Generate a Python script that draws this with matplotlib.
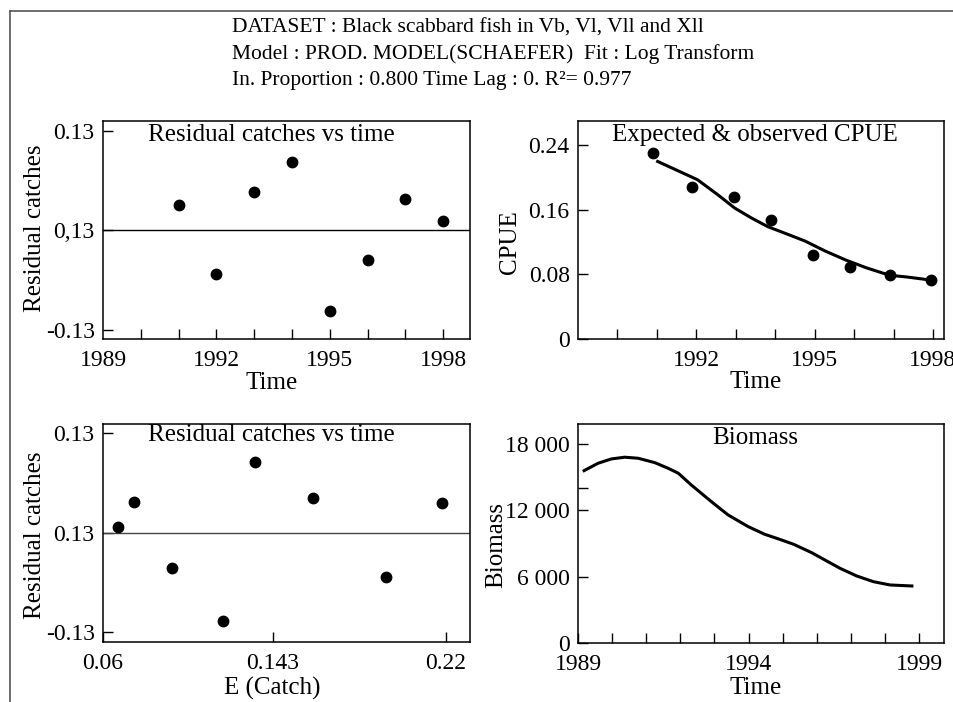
import matplotlib
matplotlib.use("Agg")
import matplotlib.pyplot as plt
from matplotlib.lines import Line2D

# residuals vs time
res_years = [1991, 1992, 1993, 1994, 1995, 1996, 1997, 1998]
res_time = [0.033, -0.057, 0.050, 0.090, -0.105, -0.039, 0.041, 0.012]

# observed / expected CPUE
cpue_years = [1990.9, 1991.9, 1992.95, 1993.9, 1994.95, 1995.9, 1996.92, 1997.95]
cpue_obs = [0.230, 0.1875, 0.1756, 0.1477, 0.1034, 0.0895, 0.0792, 0.073]
fit_years = [1991.02, 1992.03, 1992.54, 1992.97, 1993.39, 1993.82, 1994.33,
             1994.76, 1995.27, 1995.79, 1996.3, 1996.9, 1997.33, 1997.92]
cpue_fit = [0.2195, 0.1969, 0.1785, 0.162, 0.1498, 0.1387, 0.1292,
            0.121, 0.1087, 0.0976, 0.0882, 0.0788, 0.0767, 0.073]

# residuals vs effort
effort = [0.067, 0.0745, 0.092, 0.116, 0.131, 0.158, 0.192, 0.218]
res_effort = [0.007, 0.040, -0.046, -0.115, 0.092, 0.045, -0.058, 0.038]

# biomass trajectory
bio_years = [1989.18, 1989.59, 1989.98, 1990.37, 1990.76, 1991.25, 1991.64,
             1991.94, 1992.32, 1992.91, 1993.40, 1993.99, 1994.47, 1994.86,
             1995.32, 1995.85, 1996.29, 1996.68, 1997.17, 1997.66, 1998.15, 1998.79]
biomass = [15585, 16253, 16643, 16797, 16706, 16308, 15800,
           15350, 14290, 12780, 11578, 10520, 9832, 9430,
           8927, 8168, 7417, 6757, 6060, 5545, 5246, 5155]

plt.rcParams['font.family'] = ['Liberation Serif', 'DejaVu Serif']
FS_TICK = 17
FS_LAB = 18
FS_HEAD = 15.5

fig = plt.figure(figsize=(9.54, 7.02), dpi=100)

# outer frame (top and left only)
fig.add_artist(Line2D([10 / 954, 1], [1 - 11 / 702, 1 - 11 / 702], color='#555555', lw=1.2))
fig.add_artist(Line2D([10 / 954, 10 / 954], [0, 1 - 11 / 702], color='#555555', lw=1.2))

header = ["DATASET : Black scabbard fish in Vb, Vl, Vll and Xll",
          "Model : PROD. MODEL(SCHAEFER)  Fit : Log Transform",
          "In. Proportion : 0.800 Time Lag : 0. R\u00b2= 0.977"]
for i, line in enumerate(header):
    fig.text(232 / 954, 1 - (28 + 26.5 * i) / 702, line, fontsize=FS_HEAD, va='center', ha='left')


def style(ax):
    for s in ax.spines.values():
        s.set_linewidth(1.1)
    ax.tick_params(direction='in', length=7, width=1, labelsize=FS_TICK, pad=6)
    ax.tick_params(axis='x', pad=8)


def labels(ax, title, ty, xlabel, xl, ylabel, yl):
    ax.text(ty[0], ty[1], title, transform=ax.transAxes, fontsize=FS_LAB, ha='center', va='center')
    ax.set_xlabel(xlabel, fontsize=FS_LAB, va='center')
    ax.xaxis.set_label_coords(*xl)
    ax.set_ylabel(ylabel, fontsize=FS_LAB, va='center')
    ax.yaxis.set_label_coords(*yl)


ax1 = fig.add_axes([103 / 954, 1 - 339 / 702, 367 / 954, 218 / 702])
ax2 = fig.add_axes([578 / 954, 1 - 339 / 702, 366 / 954, 218 / 702])
ax3 = fig.add_axes([103 / 954, 1 - 642 / 702, 367 / 954, 218 / 702])
ax4 = fig.add_axes([578 / 954, 1 - 643 / 702, 366 / 954, 219 / 702])

# top left
style(ax1)
ax1.axhline(0, color='black', lw=1)
ax1.plot(res_years, res_time, 'o', color='black', ms=7.5)
ax1.set_xlim(1989, 1998.71)
ax1.set_ylim(-0.1424, 0.1437)
ax1.set_xticks(range(1990, 1999))
ax1.set_xticklabels(['', '', '1992', '', '', '1995', '', '', '1998'])
ax1.set_yticks([-0.13, 0, 0.13])
ax1.set_yticklabels(['-0.13', '0,13', '0.13'])
ax1.text(1989, -0.1424 - 0.0145, '1989', fontsize=FS_TICK, ha='center', va='top')
labels(ax1, 'Residual catches vs time', (0.46, 0.936), 'Time', (0.46, -0.20),
       'Residual catches', (-0.185, 0.509))

# top right
style(ax2)
ax2.plot(fit_years, cpue_fit, color='black', lw=2.2)
ax2.plot(cpue_years, cpue_obs, 'o', color='black', ms=7.5)
ax2.set_xlim(1989, 1998.28)
ax2.set_ylim(0, 0.2695)
ax2.set_xticks(range(1990, 1999))
ax2.set_xticklabels(['', '', '1992', '', '', '1995', '', '', '1998'])
ax2.set_yticks([0, 0.08, 0.16, 0.24])
ax2.set_yticklabels(['0', '0.08', '0.16', '0.24'])
labels(ax2, 'Expected & observed CPUE', (0.484, 0.936), 'Time', (0.484, -0.197),
       'CPUE', (-0.186, 0.445))

# bottom left
style(ax3)
ax3.axhline(0, color='#444444', lw=1)
ax3.plot(effort, res_effort, 'o', color='black', ms=7.5)
ax3.set_xlim(0.06, 0.2312)
ax3.set_ylim(-0.143, 0.1418)
ax3.set_xticks([0.06, 0.1393, 0.22])
ax3.set_xticklabels(['0.06', '0.143', '0.22'])
ax3.set_yticks([-0.13, 0, 0.13])
ax3.set_yticklabels(['-0.13', '0.13', '0.13'])
labels(ax3, 'Residual catches vs time', (0.46, 0.95), 'E (Catch)', (0.46, -0.211),
       'Residual catches', (-0.185, 0.49))

# bottom right
style(ax4)
ax4.plot(bio_years, biomass, color='black', lw=2.2)
ax4.set_xlim(1989, 1999.73)
ax4.set_ylim(0, 19800)
ax4.set_xticks(range(1989, 2000))
ax4.set_xticklabels(['1989', '', '', '', '', '1994', '', '', '', '', '1999'])
ax4.set_yticks([0, 6000, 12000, 14000, 18000])
ax4.set_yticklabels(['0', '6 000', '12 000', '', '18 000'])
labels(ax4, 'Biomass', (0.484, 0.936), 'Time', (0.484, -0.205),
       'Biomass', (-0.224, 0.447))

fig.savefig('out.png', dpi=100)
